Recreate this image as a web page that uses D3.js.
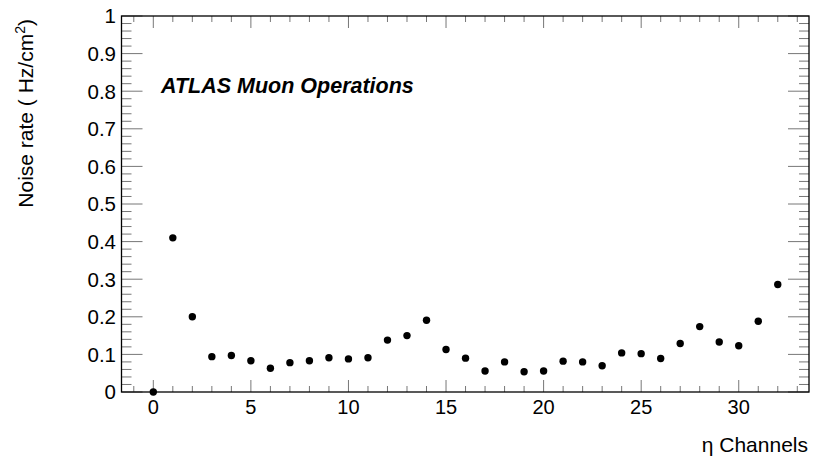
<!DOCTYPE html>
<html><head><meta charset="utf-8">
<script src="https://cdn.jsdelivr.net/npm/d3@7"></script>
<style>body{margin:0;background:#fff}svg{display:block}text{font-family:"Liberation Sans",Arial,sans-serif}</style>
</head><body><svg id="c" width="819" height="462"></svg>
<script>
const channels = [0,1,2,3,4,5,6,7,8,9,10,11,12,13,14,15,16,17,18,19,20,21,22,23,24,25,26,27,28,29,30,31,32];
const noiseRate = [0.0,0.41,0.20,0.094,0.097,0.083,0.063,0.078,0.083,0.091,0.088,0.091,0.138,0.150,0.191,0.113,0.090,0.056,0.080,0.054,0.056,0.082,0.080,0.070,0.104,0.102,0.089,0.129,0.174,0.133,0.123,0.188,0.286];
const xTicks = [0,5,10,15,20,25,30];
const yTicks = [0,0.1,0.2,0.3,0.4,0.5,0.6,0.7,0.8,0.9,1];
const xDomain = [-1.63, 33.6];
const yDomain = [0, 1];

const svg = d3.select("#c");
const L = 121.5, R = 809, T = 16, B = 392;
const x = d3.scaleLinear().domain(xDomain).range([L, R]);
const y = d3.scaleLinear().domain(yDomain).range([B, T]);
const tickCol = "#777";

// x ticks bottom & top
const xMinor = d3.range(-1, 34, 1);
svg.append("g").selectAll("line").data(xMinor).join("line")
  .attr("x1", d => x(d)).attr("x2", d => x(d))
  .attr("y1", B).attr("y2", d => B - (d % 5 === 0 ? 12 : 6))
  .attr("stroke", tickCol).attr("stroke-width", 1);
svg.append("g").selectAll("line").data(xMinor).join("line")
  .attr("x1", d => x(d)).attr("x2", d => x(d))
  .attr("y1", T).attr("y2", d => T + (d % 5 === 0 ? 12 : 6))
  .attr("stroke", tickCol).attr("stroke-width", 1);

// y ticks left & right
const yMinor = d3.range(0, 51).map(i => i / 50);
svg.append("g").selectAll("line").data(yMinor).join("line")
  .attr("y1", d => y(d)).attr("y2", d => y(d))
  .attr("x1", L).attr("x2", (d, i) => L + (i % 5 === 0 ? 21 : 10))
  .attr("stroke", tickCol).attr("stroke-width", 1);
svg.append("g").selectAll("line").data(yMinor).join("line")
  .attr("y1", d => y(d)).attr("y2", d => y(d))
  .attr("x1", R).attr("x2", (d, i) => R - (i % 5 === 0 ? 21 : 10))
  .attr("stroke", tickCol).attr("stroke-width", 1);

// frame
svg.append("rect").attr("x", L).attr("y", T).attr("width", R - L).attr("height", B - T)
  .attr("fill", "none").attr("stroke", "#000").attr("stroke-width", 1.3);

// tick labels
svg.append("g").selectAll("text").data(xTicks).join("text")
  .attr("x", d => x(d)).attr("y", 414).attr("text-anchor", "middle")
  .attr("font-size", 20).text(d => d);
svg.append("g").selectAll("text").data(yTicks).join("text")
  .attr("x", 116).attr("y", d => y(d) + 7.3).attr("text-anchor", "end")
  .attr("font-size", 20.5).text(d => d3.format("")(d));

// points
svg.append("g").selectAll("circle").data(channels).join("circle")
  .attr("cx", d => x(d)).attr("cy", (d, i) => y(noiseRate[i])).attr("r", 3.7).attr("fill", "#000");

// titles
svg.append("text").attr("x", 808).attr("y", 452).attr("text-anchor", "end")
  .attr("font-size", 21).text("η Channels");
const yt = svg.append("text").attr("transform", "translate(33,19) rotate(-90)")
  .attr("text-anchor", "end").attr("font-size", 21);
yt.append("tspan").text("Noise rate ( Hz/cm");
yt.append("tspan").attr("dy", -8).attr("font-size", 14).text("2");
yt.append("tspan").attr("dy", 8).text(")");

svg.append("text").attr("x", 161).attr("y", 93).attr("font-size", 21.5)
  .attr("font-weight", "bold").attr("font-style", "italic").text("ATLAS Muon Operations");
</script></body></html>
